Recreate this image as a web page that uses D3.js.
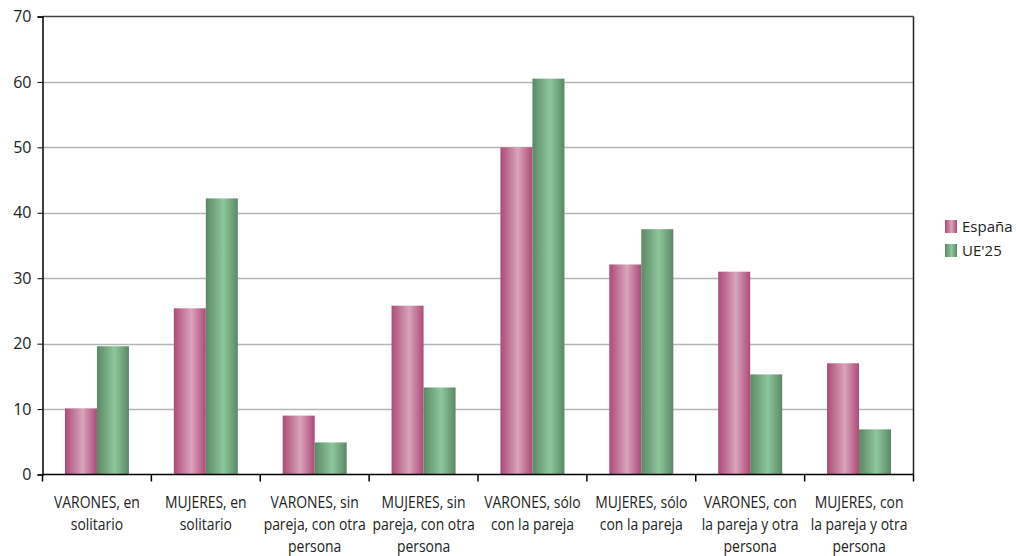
<!DOCTYPE html>
<html><head><meta charset="utf-8">
<script src="https://cdn.jsdelivr.net/npm/d3@7"></script>
<style>body{margin:0;background:#fff}svg{display:block}text{font-family:"Open Sans",sans-serif;fill:#222}</style>
</head><body><svg id="c" width="1016" height="556"></svg>
<script>
const categories = [
  ["VARONES, en","solitario"],
  ["MUJERES, en","solitario"],
  ["VARONES, sin","pareja, con otra","persona"],
  ["MUJERES, sin","pareja, con otra","persona"],
  ["VARONES, sólo","con la pareja"],
  ["MUJERES, sólo","con la pareja"],
  ["VARONES, con","la pareja y otra","persona"],
  ["MUJERES, con","la pareja y otra","persona"]
];
const espana = [10.1, 25.4, 9.0, 25.8, 50.0, 32.1, 31.0, 17.0];
const ue25   = [19.6, 42.2, 4.9, 13.3, 60.5, 37.5, 15.3, 6.9];
const seriesNames = ["España","UE'25"];
const yTicks = [0,10,20,30,40,50,60,70];

const svg = d3.select("#c");
const L=42.5, R=913.5, T=16.5, B=474.5;
const x = d3.scaleBand().domain(d3.range(categories.length)).range([L,R]).paddingInner(0).paddingOuter(0);
const y = d3.scaleLinear().domain([0,70]).range([B,T]);

const defs = svg.append("defs");
function grad(id, edge, mid){
  const g = defs.append("linearGradient").attr("id",id).attr("x1","0").attr("x2","1").attr("y1","0").attr("y2","0");
  g.append("stop").attr("offset","0%").attr("stop-color",edge);
  g.append("stop").attr("offset","55%").attr("stop-color",mid);
  g.append("stop").attr("offset","100%").attr("stop-color",edge);
}
grad("gp","#ad4a78","#d9a4bb");
grad("gg","#5b8867","#8ec79c");
const fills=["url(#gp)","url(#gg)"];

// gridlines
svg.append("g").selectAll("line").data(yTicks.filter(d=>d>0&&d<70)).join("line")
  .attr("x1",L).attr("x2",R).attr("y1",d=>Math.round(y(d))+0.5).attr("y2",d=>Math.round(y(d))+0.5)
  .attr("stroke","#b4b4b4").attr("stroke-width",1.5);
// frame top/right
svg.append("line").attr("x1",L).attr("x2",R).attr("y1",T).attr("y2",T).attr("stroke","#444").attr("stroke-width",1.5);
svg.append("line").attr("x1",R).attr("x2",R).attr("y1",T).attr("y2",B).attr("stroke","#222").attr("stroke-width",1.5);

// bars
const bw = 32;
const x1 = d3.scaleBand().domain([0,1]).range([0,bw*2]);
const groups = svg.append("g").selectAll("g").data(categories.map((c,i)=>i)).join("g")
  .attr("transform",i=>`translate(${x(i)+x.bandwidth()/2-bw},0)`);
groups.selectAll("rect").data(i=>[espana[i],ue25[i]].map((v,s)=>({v,s}))).join("rect")
  .attr("x",d=>x1(d.s)).attr("width",x1.bandwidth())
  .attr("y",d=>y(d.v)).attr("height",d=>B-y(d.v))
  .attr("fill",d=>fills[d.s]);

// y axis
const ya = svg.append("g").attr("transform",`translate(${L},0)`)
  .call(d3.axisLeft(y).tickValues(yTicks).tickSize(5).tickPadding(6));
ya.select(".domain").attr("stroke","#000").attr("stroke-width",1.5);
ya.selectAll(".tick line").attr("stroke","#000");
ya.selectAll("text").attr("font-size",16).style("font-family",'"Open Sans",sans-serif').attr("fill","#222");

// x axis
const xa = svg.append("g").attr("transform",`translate(0,${B})`);
xa.append("line").attr("x1",L).attr("x2",R).attr("stroke","#000").attr("stroke-width",1.5);
const bounds = d3.range(categories.length+1).map(i=> i<categories.length ? x(i) : R);
xa.selectAll("line.t").data(bounds).join("line").attr("class","t")
  .attr("x1",d=>d).attr("x2",d=>d).attr("y1",0).attr("y2",7).attr("stroke","#000").attr("stroke-width",1.5);
const lab = svg.append("g").selectAll("text").data(categories).join("text")
  .attr("text-anchor","middle").attr("font-size",16)
  .attr("transform",(c,i)=>`translate(${x(i)+x.bandwidth()/2},${B+33}) scale(0.87,1)`);
lab.selectAll("tspan").data(c=>c).join("tspan").attr("x",0).attr("dy",(d,j)=>j?22.5:0).text(d=>d);

// legend
const lg = svg.append("g").attr("transform","translate(945,220)");
seriesNames.forEach((n,i)=>{
  lg.append("rect").attr("x",0).attr("y",i*24).attr("width",12).attr("height",13).attr("fill",fills[i]);
  lg.append("text").attr("x",17).attr("y",i*24+12).attr("font-size",15).attr("transform","").text(n);
});
</script></body></html>
